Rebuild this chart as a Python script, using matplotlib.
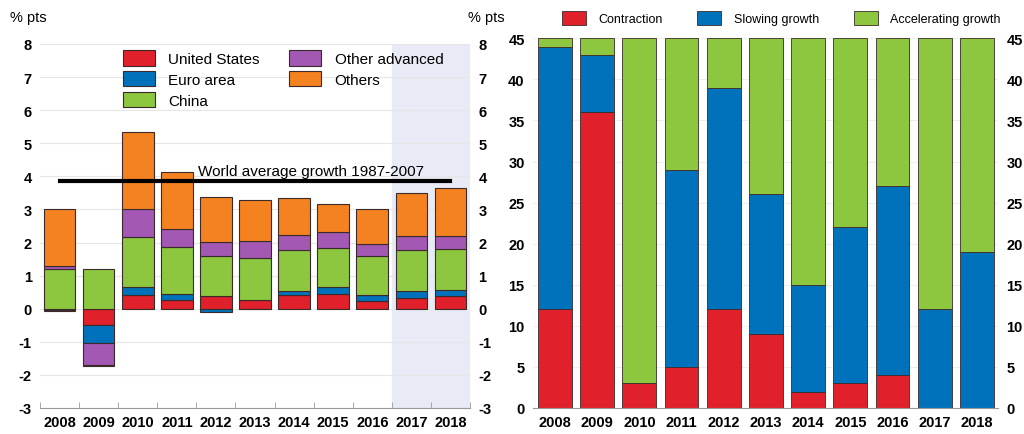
import matplotlib.pyplot as plt
import numpy as np

plt.rcParams['font.family'] = ['Liberation Sans', 'DejaVu Sans']
plt.rcParams['axes.unicode_minus'] = False

years = ['2008', '2009', '2010', '2011', '2012', '2013', '2014', '2015', '2016', '2017', '2018']

# left panel: contributions to world GDP growth, % pts
us = [-0.03, -0.50, 0.42, 0.25, 0.37, 0.27, 0.40, 0.45, 0.22, 0.32, 0.37]
euro = [-0.03, -0.53, 0.25, 0.19, -0.10, -0.02, 0.14, 0.21, 0.18, 0.22, 0.19]
china = [1.20, 1.20, 1.50, 1.43, 1.22, 1.27, 1.23, 1.18, 1.19, 1.23, 1.24]
other_adv = [0.10, -0.68, 0.85, 0.55, 0.43, 0.50, 0.45, 0.48, 0.38, 0.43, 0.40]
others = [1.70, -0.03, 2.33, 1.70, 1.35, 1.25, 1.13, 0.83, 1.05, 1.30, 1.44]
world_avg = 3.87

# right panel: number of countries
contraction = [12, 36, 3, 5, 12, 9, 2, 3, 4, 0, 0]
slowing = [32, 7, 0, 24, 27, 17, 13, 19, 23, 12, 19]
accelerating = [1, 2, 42, 16, 6, 19, 30, 23, 18, 33, 26]

red = '#E0212B'
blue = '#0072BC'
green = '#8DC63F'
purple = '#A358B3'
orange = '#F58220'
edge = '#3a2a2a'

fig = plt.figure(figsize=(10.24, 4.35), dpi=100)
ax1 = fig.add_axes([40/1024, 1 - 409/435, 430/1024, 364/435])
ax2 = fig.add_axes([533/1024, 1 - 409/435, 465/1024, 369.7/435])

x = np.arange(len(years))

# ---- left panel ----
ax1.axvspan(8.5, 10.5, color='#E8EBF6', zorder=0)
pos_bottom = np.zeros(len(years))
neg_bottom = np.zeros(len(years))
series = [(us, red, 'United States'), (euro, blue, 'Euro area'), (china, green, 'China'),
          (other_adv, purple, 'Other advanced'), (others, orange, 'Others')]
handles = {}
for vals, col, lab in series:
    vals = np.array(vals)
    bottom = np.where(vals >= 0, pos_bottom, neg_bottom)
    b = ax1.bar(x, vals, bottom=bottom, width=0.81, color=col, edgecolor=edge,
                linewidth=0.8, label=lab, zorder=2)
    handles[lab] = b
    pos_bottom = pos_bottom + np.where(vals >= 0, vals, 0)
    neg_bottom = neg_bottom + np.where(vals < 0, vals, 0)

ax1.plot([x[0], x[-1]], [world_avg, world_avg], color='black', lw=3, zorder=3)
ax1.text(3.55, world_avg + 0.08, 'World average growth 1987-2007', fontsize=11, va='bottom', zorder=3)

ax1.set_xlim(-0.5, 10.5)
ax1.set_ylim(-3, 8)
ax1.set_yticks(range(-3, 9))
ax1.set_xticks(x)
ax1.set_xticklabels(years, fontweight='bold', fontsize=10.5)
ax1.set_xticks(np.arange(-0.5, 11, 1), minor=True)
ax1.tick_params(axis='x', which='major', length=0, pad=5)
ax1.tick_params(axis='x', which='minor', length=4, color='#999999', direction='in')
ax1.tick_params(axis='y', length=0, labelright=True, labelsize=10.5)
ax1.tick_params(axis='y', which='major', pad=6)
for t in ax1.get_yticklabels():
    t.set_fontweight('bold')
ax1.grid(axis='y', color='#e6e6e6', lw=0.8, zorder=0)
ax1.set_axisbelow(True)
for s in ['top', 'left', 'right']:
    ax1.spines[s].set_visible(False)
ax1.spines['bottom'].set_color('#999999')

order = ['United States', 'Euro area', 'China', 'Other advanced', 'Others']
ax1.legend([handles[k] for k in order], order, ncol=2, loc='upper left',
           bbox_to_anchor=(0.16, 1.02), frameon=False, fontsize=11,
           handlelength=2.1, handleheight=1.15, columnspacing=1.9,
           labelspacing=0.33, handletextpad=0.9)

fig.text(10/1024, 1 - 18/435, '% pts', fontsize=10.5, va='center')
fig.text(468/1024, 1 - 18/435, '% pts', fontsize=10.5, va='center')

# ---- right panel ----
c = np.array(contraction)
s_ = np.array(slowing)
a = np.array(accelerating)
ax2.bar(x, c, width=0.8, color=red, edgecolor=edge, linewidth=0.6, label='Contraction', zorder=2)
ax2.bar(x, s_, bottom=c, width=0.8, color=blue, edgecolor=edge, linewidth=0.6,
        label='Slowing growth', zorder=2)
ax2.bar(x, a, bottom=c + s_, width=0.8, color=green, edgecolor=edge, linewidth=0.6,
        label='Accelerating growth', zorder=2)

ax2.set_xlim(-0.52, 10.5)
ax2.set_ylim(0, 45)
ax2.set_yticks(range(0, 46, 5))
ax2.set_xticks(x)
ax2.set_xticklabels(years, fontsize=10.5, fontweight='bold')
ax2.tick_params(axis='x', which='major', length=0, pad=5)
ax2.tick_params(axis='y', length=0, labelright=True, labelsize=10.5, pad=6)
for t in ax2.get_yticklabels():
    t.set_fontweight('bold')
ax2.grid(axis='y', color='#eeeeee', lw=0.8, zorder=0)
ax2.set_axisbelow(True)
for s in ['top', 'left', 'right']:
    ax2.spines[s].set_visible(False)
ax2.spines['bottom'].set_color('#999999')
ax2.legend(ncol=3, loc='lower left', bbox_to_anchor=(0.062, 1.035), frameon=False,
           fontsize=9, handlelength=1.9, handleheight=1.3, borderpad=0,
           columnspacing=2.8, handletextpad=1.0, borderaxespad=0)

fig.savefig('out.png', dpi=100)
